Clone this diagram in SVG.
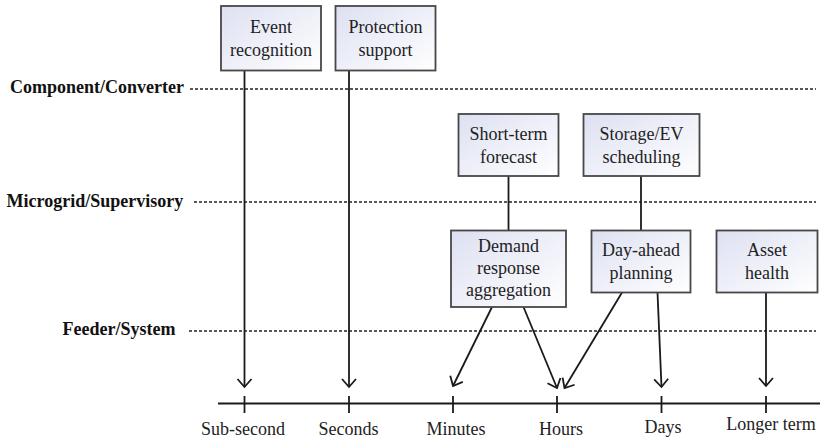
<svg xmlns="http://www.w3.org/2000/svg" width="820" height="439" viewBox="0 0 820 439">
  <defs>
    <linearGradient id="boxfill" x1="0" y1="0" x2="1" y2="1">
      <stop offset="0" stop-color="#dde0f2"/>
      <stop offset="1" stop-color="#ffffff"/>
    </linearGradient>
    <marker id="arrow" markerUnits="userSpaceOnUse" viewBox="-10 -10 20 20" refX="0" refY="0" markerWidth="20" markerHeight="20" orient="auto" overflow="visible">
      <path d="M-8,-7 L0,0 L-8,7" fill="none" stroke="#1a1a1a" stroke-width="1.8"/>
    </marker>
  </defs>
  <style>
    .box { fill: url(#boxfill); stroke: #474747; stroke-width: 1.8; }
    .t { font-family: "Liberation Serif", "Times New Roman", serif; font-size: 18px; fill: #222; text-anchor: middle; }
    .lvl { font-family: "Liberation Serif", "Times New Roman", serif; font-size: 18px; font-weight: bold; fill: #111; }
    .dot { stroke: #222; stroke-width: 1.4; stroke-dasharray: 3 2; fill: none; }
    .conn { stroke: #1a1a1a; stroke-width: 1.8; fill: none; }
    .arr { marker-end: url(#arrow); }
    .axis { stroke: #1a1a1a; stroke-width: 1.8; fill: none; }
  </style>
  <rect width="820" height="439" fill="#ffffff"/>

  <g id="levels">
    <text class="lvl" x="10" y="93">Component/Converter</text>
    <line class="dot" x1="190" y1="89" x2="816" y2="89"/>
    <text class="lvl" x="6.5" y="207">Microgrid/Supervisory</text>
    <line class="dot" x1="194" y1="202" x2="816" y2="202"/>
    <text class="lvl" x="62.5" y="335">Feeder/System</text>
    <line class="dot" x1="189" y1="331" x2="816" y2="331"/>
  </g>

  <g id="axis">
    <line class="axis" x1="218" y1="403.5" x2="820" y2="403.5"/>
    <line class="axis" x1="244.5" y1="396" x2="244.5" y2="413"/>
    <line class="axis" x1="349" y1="396" x2="349" y2="413"/>
    <line class="axis" x1="453" y1="396" x2="453" y2="413"/>
    <line class="axis" x1="557" y1="396" x2="557" y2="413"/>
    <line class="axis" x1="661.5" y1="396" x2="661.5" y2="413"/>
    <line class="axis" x1="766" y1="396" x2="766" y2="413"/>
    <text class="t" x="243" y="434.5">Sub-second</text>
    <text class="t" x="348.5" y="434.5">Seconds</text>
    <text class="t" x="456" y="434.5">Minutes</text>
    <text class="t" x="561" y="434.5">Hours</text>
    <text class="t" x="663" y="432.5">Days</text>
    <text class="t" x="771" y="429.5">Longer term</text>
  </g>

  <g id="connectors">
    <line class="conn arr" x1="244.5" y1="70.5" x2="244.5" y2="387"/>
    <line class="conn arr" x1="349" y1="70.5" x2="349" y2="387"/>
    <line class="conn" x1="508.5" y1="176" x2="508.5" y2="230.5"/>
    <line class="conn" x1="641" y1="176" x2="641" y2="230.5"/>
    <line class="conn arr" x1="492" y1="307" x2="453" y2="386"/>
    <line class="conn arr" x1="523.5" y1="307" x2="557" y2="388"/>
    <line class="conn arr" x1="622" y1="292.5" x2="564.5" y2="388"/>
    <line class="conn arr" x1="657.5" y1="292.5" x2="661.5" y2="387"/>
    <line class="conn arr" x1="766" y1="292.5" x2="766" y2="386"/>
  </g>

  <g id="event-recognition">
    <rect class="box" x="221" y="6" width="100" height="64.5"/>
    <text class="t" x="271" y="32.5">Event</text>
    <text class="t" x="271" y="55.5">recognition</text>
  </g>
  <g id="protection-support">
    <rect class="box" x="335.5" y="6" width="100" height="64.5"/>
    <text class="t" x="385.5" y="32.5">Protection</text>
    <text class="t" x="385.5" y="55.5">support</text>
  </g>
  <g id="short-term-forecast">
    <rect class="box" x="458.5" y="114" width="100" height="62"/>
    <text class="t" x="508.5" y="139.5">Short-term</text>
    <text class="t" x="508.5" y="162.5">forecast</text>
  </g>
  <g id="storage-ev-scheduling">
    <rect class="box" x="583.5" y="114" width="116" height="62"/>
    <text class="t" x="641.5" y="139.5">Storage/EV</text>
    <text class="t" x="641.5" y="162.5">scheduling</text>
  </g>
  <g id="demand-response-aggregation">
    <rect class="box" x="451" y="230.5" width="115" height="76.5"/>
    <text class="t" x="508.5" y="252">Demand</text>
    <text class="t" x="508.5" y="274">response</text>
    <text class="t" x="508.5" y="296">aggregation</text>
  </g>
  <g id="day-ahead-planning">
    <rect class="box" x="591.5" y="230.5" width="99" height="62"/>
    <text class="t" x="641" y="256">Day-ahead</text>
    <text class="t" x="641" y="279">planning</text>
  </g>
  <g id="asset-health">
    <rect class="box" x="716.5" y="230.5" width="101" height="62"/>
    <text class="t" x="767" y="256">Asset</text>
    <text class="t" x="767" y="279">health</text>
  </g>
</svg>
